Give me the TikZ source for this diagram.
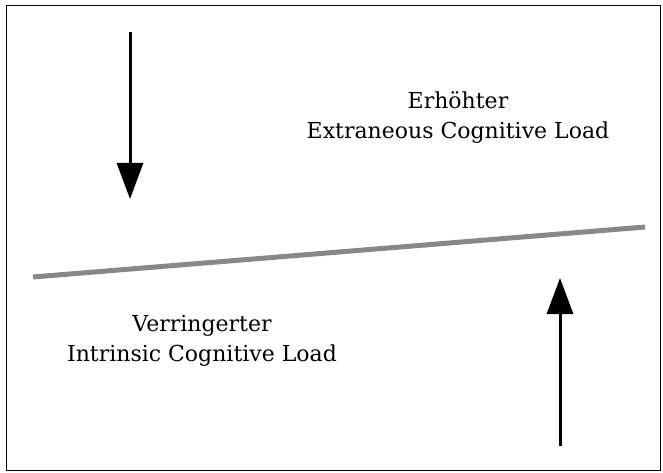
\documentclass[tikz,border=0pt]{standalone}
\usepackage{fontspec}
\setmainfont{DejaVu Serif}
\usetikzlibrary{arrows.meta,positioning}
\definecolor{mygray}{RGB}{136,136,136}

\begin{document}
\begin{tikzpicture}[x=1pt, y=-1pt,
    loadarrow/.style={line width=3pt, -{Triangle[length=36pt,width=26pt]}},
    loadtext/.style={align=center, font=\fontsize{22}{30}\selectfont, inner sep=0pt}]
    \useasboundingbox (0,0) rectangle (663,473);
    \draw[line width=1.4pt] (6.5,5.5) rectangle (660.5,470.5);

    \coordinate (Atop) at (130,32);
    \coordinate (Abot) at (130,199);
    \coordinate (Bbot) at (560,446);
    \coordinate (Btop) at (560,278);
    \coordinate (Lleft) at (33,277);
    \coordinate (Lright) at (645,227);

    \node[loadtext] (E) at (458,118) {Erhöhter\\Extraneous Cognitive Load};
    \node[loadtext] (I) at (202,341) {Verringerter\\Intrinsic Cognitive Load};

    \draw[loadarrow] (Atop) -- (Abot);
    \draw[loadarrow] (Bbot) -- (Btop);
    \draw[mygray, line width=5pt] (Lleft) -- (Lright);
  \end{tikzpicture}
\end{document}
